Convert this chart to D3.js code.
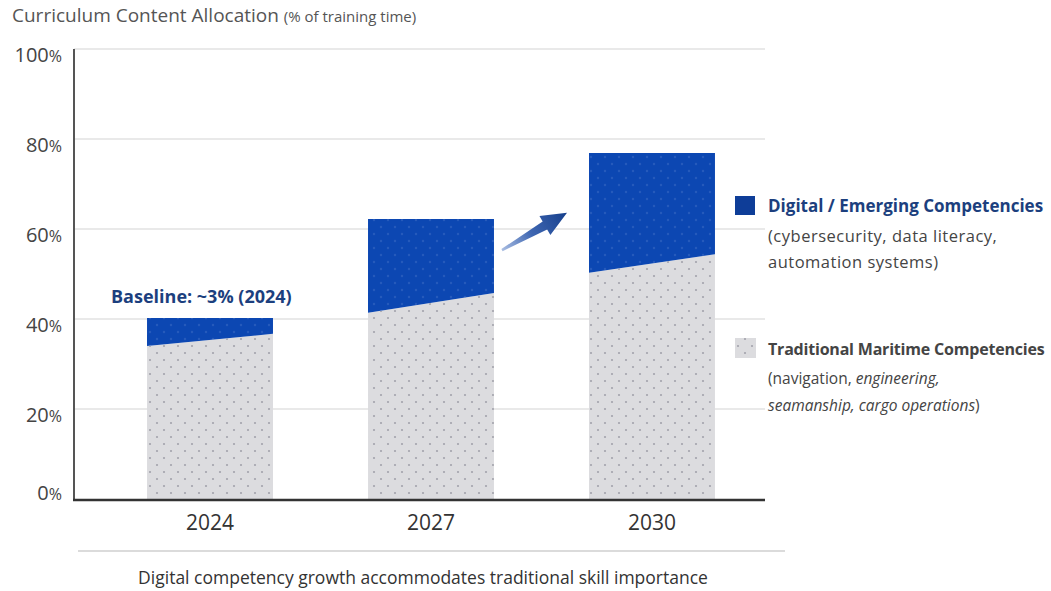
<!DOCTYPE html>
<html>
<head>
<meta charset="utf-8">
<script src="https://cdn.jsdelivr.net/npm/d3@7"></script>
<style>
  html, body { margin: 0; padding: 0; background: #fff; }
  svg { display: block; font-family: "Open Sans", "Noto Sans", sans-serif; }
</style>
</head>
<body>
<div id="chart"></div>
<script>
// data
const years = ["2024", "2027", "2030"];
const totalShare = [40.2, 62.2, 76.9];       // top of each bar (%)
const tradStart = [34.0, 41.4, 50.3];        // traditional share, left edge of bar
const tradEnd = [36.7, 45.8, 54.4];          // traditional share, right edge of bar
const yTicks = [0, 20, 40, 60, 80, 100];

let width = 1051;
let height = 591;

const svg = d3.select("#chart").append("svg")
    .attr("width", width)
    .attr("height", height);

const defs = svg.append("defs");

// dotted grey texture
const grey = defs.append("pattern")
    .attr("id", "dotsGrey")
    .attr("patternUnits", "userSpaceOnUse")
    .attr("width", 14).attr("height", 14);
grey.append("rect").attr("width", 14).attr("height", 14).attr("fill", "#dcdcdf");
grey.append("circle").attr("cx", 3).attr("cy", 3).attr("r", 1.1).attr("fill", "#a3a3ac");
grey.append("circle").attr("cx", 10).attr("cy", 10).attr("r", 1.1).attr("fill", "#a3a3ac");

// faint texture on blue
const blue = defs.append("pattern")
    .attr("id", "dotsBlue")
    .attr("patternUnits", "userSpaceOnUse")
    .attr("width", 14).attr("height", 14);
blue.append("rect").attr("width", 14).attr("height", 14).attr("fill", "#0c47b2");
blue.append("circle").attr("cx", 3).attr("cy", 3).attr("r", 1.2).attr("fill", "#3566c2").attr("opacity", 0.6);
blue.append("circle").attr("cx", 10).attr("cy", 10).attr("r", 1.2).attr("fill", "#3566c2").attr("opacity", 0.6);

const arrowGrad = defs.append("linearGradient")
    .attr("id", "arrowGrad")
    .attr("gradientUnits", "userSpaceOnUse");

var x = d3.scaleBand()
    .domain(years)
    .range([52, 810])
    .padding(0.43);

var y = d3.scaleLinear()
    .domain([0, 100])
    .range([499, 49]);

const left = 74, right = 765;

// title
const title = svg.append("text")
    .attr("x", 12).attr("y", 22)
    .attr("fill", "#555")
    .attr("font-size", 19);
title.append("tspan").text("Curriculum Content Allocation ");
title.append("tspan").attr("font-size", 15).text("(% of training time)");

// grid
svg.append("g").selectAll("line")
    .data(yTicks.filter(d => d > 0))
    .join("line")
    .attr("x1", left).attr("x2", right)
    .attr("y1", d => y(d)).attr("y2", d => y(d))
    .attr("stroke", "#d3d3d3")
    .attr("stroke-width", 1.2);

// y labels
const yl = svg.append("g").selectAll("text")
    .data(yTicks)
    .join("text")
    .attr("x", 62)
    .attr("y", d => d === 0 ? y(0) + 1 : y(d) + 13)
    .attr("text-anchor", "end")
    .attr("fill", "#444")
    .attr("font-size", 20);
yl.append("tspan").text(d => d);
yl.append("tspan").attr("font-size", 16).text("%");

// bars
const line = d3.line();
const bars = svg.append("g").selectAll("g")
    .data(years)
    .join("g");

bars.append("path")
    .attr("d", (d, i) => {
      const x0 = x(d), x1 = x(d) + x.bandwidth();
      return line([[x0, y(0)], [x0, y(tradStart[i])], [x1, y(tradEnd[i])], [x1, y(0)]]) + "Z";
    })
    .attr("fill", "url(#dotsGrey)");

bars.append("path")
    .attr("d", (d, i) => {
      const x0 = x(d), x1 = x(d) + x.bandwidth();
      return line([[x0, y(tradStart[i])], [x0, y(totalShare[i])], [x1, y(totalShare[i])], [x1, y(tradEnd[i])]]) + "Z";
    })
    .attr("fill", "url(#dotsBlue)");

// axes lines
svg.append("line")
    .attr("x1", left).attr("x2", left)
    .attr("y1", y(100)).attr("y2", y(0) + 1)
    .attr("stroke", "#555").attr("stroke-width", 2);
svg.append("line")
    .attr("x1", left - 1).attr("x2", right)
    .attr("y1", y(0) + 1).attr("y2", y(0) + 1)
    .attr("stroke", "#333").attr("stroke-width", 2.5);

// x labels
svg.append("g").selectAll("text")
    .data(years)
    .join("text")
    .attr("x", d => x(d) + x.bandwidth() / 2)
    .attr("y", 530)
    .attr("text-anchor", "middle")
    .attr("fill", "#333")
    .attr("font-size", 21)
    .text(d => d);

// baseline note
svg.append("text")
    .attr("x", x(years[0]) - 36)
    .attr("y", y(totalShare[0]) - 15)
    .attr("fill", "#1c3f7e")
    .attr("font-weight", "bold")
    .attr("font-size", 18)
    .text("Baseline: ~3% (2024)");

// growth arrow between 2027 and 2030
const tail = [x(years[1]) + x.bandwidth() + 8, y(55.3)];
const tip = [x(years[2]) - 22, y(63.6)];
arrowGrad.attr("x1", tail[0]).attr("y1", tail[1]).attr("x2", tip[0]).attr("y2", tip[1]);
arrowGrad.append("stop").attr("offset", "0%").attr("stop-color", "#a9bde2");
arrowGrad.append("stop").attr("offset", "45%").attr("stop-color", "#3f67b2");
arrowGrad.append("stop").attr("offset", "100%").attr("stop-color", "#163f8c");
{
  const dx = tip[0] - tail[0], dy = tip[1] - tail[1];
  const len = Math.hypot(dx, dy);
  const u = [dx / len, dy / len], n = [-u[1], u[0]];
  const hb = 0.66 * len;
  const pt = (a, w) => [tail[0] + u[0] * a + n[0] * w, tail[1] + u[1] * a + n[1] * w];
  const pts = [pt(0, 1.2), pt(hb, 4.5), pt(hb, 11), tip, pt(hb, -11), pt(hb, -4.5), pt(0, -1.2)];
  svg.append("path")
      .attr("d", line(pts) + "Z")
      .attr("fill", "url(#arrowGrad)");
}

// legend
const lx = 735;
svg.append("rect")
    .attr("x", lx).attr("y", 196).attr("width", 20).attr("height", 19)
    .attr("fill", "#0e3d98");
svg.append("text")
    .attr("x", 768).attr("y", 212)
    .attr("fill", "#1c3f7e").attr("font-weight", "bold").attr("font-size", 17)
    .text("Digital / Emerging Competencies");
svg.append("text")
    .attr("x", 768).attr("y", 242)
    .attr("fill", "#444").attr("font-size", 16.5).attr("letter-spacing", 0.5)
    .text("(cybersecurity, data literacy,");
svg.append("text")
    .attr("x", 768).attr("y", 268)
    .attr("fill", "#444").attr("font-size", 16.5).attr("letter-spacing", 0.5)
    .text("automation systems)");

svg.append("rect")
    .attr("x", lx).attr("y", 338).attr("width", 21).attr("height", 20)
    .attr("fill", "url(#dotsGrey)");
svg.append("text")
    .attr("x", 768).attr("y", 355)
    .attr("fill", "#444").attr("font-weight", "bold").attr("font-size", 16)
    .attr("letter-spacing", -0.2)
    .text("Traditional Maritime Competencies");
const t2 = svg.append("text")
    .attr("x", 768).attr("y", 384)
    .attr("fill", "#444").attr("font-size", 15.5);
t2.append("tspan").text("(navigation, ");
t2.append("tspan").attr("font-style", "italic").text("engineering,");
const t3 = svg.append("text")
    .attr("x", 768).attr("y", 411)
    .attr("fill", "#444").attr("font-size", 15.5);
t3.append("tspan").attr("font-style", "italic").text("seamanship, cargo operations");
t3.append("tspan").text(")");

// footer
svg.append("line")
    .attr("x1", 78).attr("x2", 785)
    .attr("y1", 551).attr("y2", 551)
    .attr("stroke", "#cfcfcf").attr("stroke-width", 1.5);
svg.append("text")
    .attr("x", 423).attr("y", 584)
    .attr("text-anchor", "middle")
    .attr("fill", "#333").attr("font-size", 17.5)
    .text("Digital competency growth accommodates traditional skill importance");
</script>
</body>
</html>
